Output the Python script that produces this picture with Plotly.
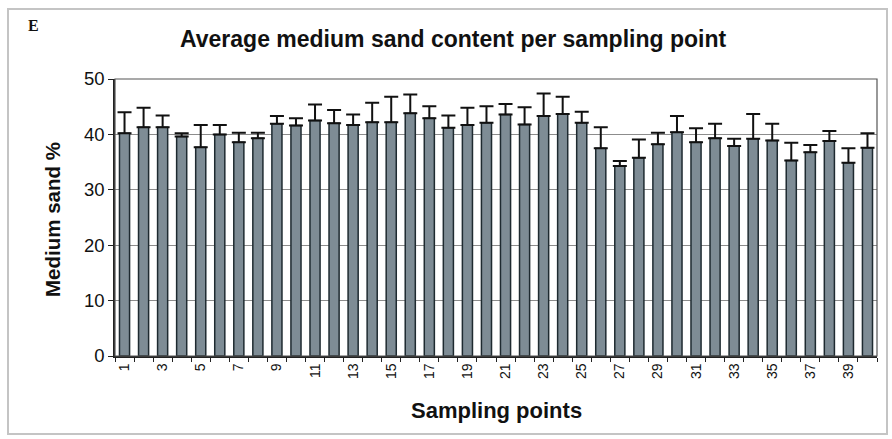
import plotly.graph_objects as go

categories = [str(i) for i in range(1, 41)]
tick_labels = [str(i) if i % 2 == 1 else "" for i in range(1, 41)]
mean_sand = [40.2, 41.3, 41.3, 39.6, 37.7, 40.0, 38.6, 39.3, 41.9, 41.6,
             42.5, 42.0, 41.7, 42.2, 42.2, 43.8, 42.9, 41.2, 41.7, 42.1,
             43.6, 41.8, 43.3, 43.7, 42.1, 37.5, 34.3, 35.8, 38.2, 40.4,
             38.6, 39.3, 37.9, 39.2, 38.9, 35.3, 36.8, 38.8, 34.9, 37.6]
error_plus = [3.8, 3.5, 2.1, 0.6, 4.0, 1.7, 1.7, 1.0, 1.4, 1.3,
              2.9, 2.4, 1.9, 3.5, 4.6, 3.4, 2.2, 2.2, 3.1, 3.0,
              1.9, 3.1, 4.1, 3.1, 2.0, 3.8, 0.9, 3.3, 2.1, 2.9,
              2.5, 2.6, 1.3, 4.5, 3.0, 3.2, 1.3, 1.8, 2.6, 2.6]
y_ticks = [0, 10, 20, 30, 40, 50]

W, H = 892, 439
L, R, T, B = 115, 15, 79, 83
pw, ph = W - L - R, H - T - B

def px(x):
    return (x - L) / pw

def py(y):
    return (H - B - y) / ph

fig = go.Figure()
fig.add_trace(go.Bar(
    x=categories, y=mean_sand,
    marker=dict(color="#7e8c95", line=dict(color="#1e2a30", width=1.5)),
    error_y=dict(type="data", array=error_plus, arrayminus=[0] * len(error_plus),
                 symmetric=False, color="#111111", thickness=2, width=7),
    showlegend=False,
))

fig.update_layout(
    width=W, height=H,
    margin=dict(l=L, r=R, t=T, b=B, autoexpand=False),
    paper_bgcolor="white", plot_bgcolor="white",
    bargap=0.47,
    font=dict(family="Liberation Sans, Arial, sans-serif", color="#111111"),
    xaxis=dict(
        type="category", tickmode="array", tickvals=categories, ticktext=tick_labels,
        tickangle=-90, tickfont=dict(size=14), tickson="boundaries",
        ticks="outside", ticklen=4, tickcolor="#222", showline=True,
        linecolor="#222", linewidth=1.5, showgrid=False,
    ),
    yaxis=dict(
        range=[0, 50], tickvals=y_ticks, tickfont=dict(size=18.5),
        ticks="outside", ticklen=5, tickcolor="#222",
        showline=True, linecolor="#222", linewidth=1.5,
        showgrid=True, gridcolor="#8c8c8c", gridwidth=1,
        zeroline=False,
    ),
    shapes=[
        dict(type="rect", xref="paper", yref="paper", x0=0, x1=1, y0=0, y1=1,
             line=dict(color="#555555", width=1.2), layer="above"),
        dict(type="rect", xref="paper", yref="paper",
             x0=px(8), x1=px(887), y0=py(9), y1=py(434),
             line=dict(color="#c4c4c4", width=2), layer="below"),
    ],
    annotations=[
        dict(text="<b>Average medium sand content per sampling point</b>",
             xref="paper", yref="paper", x=px(453), y=py(39),
             xanchor="center", yanchor="middle", showarrow=False,
             font=dict(size=23, family="Liberation Sans, Arial, sans-serif")),
        dict(text="<b>E</b>", xref="paper", yref="paper", x=px(26), y=py(26),
             xanchor="left", yanchor="middle", showarrow=False,
             font=dict(size=16, family="Liberation Serif, Times New Roman, serif")),
        dict(text="<b>Medium sand %</b>", xref="paper", yref="paper",
             x=px(52), y=py(219), textangle=-90,
             xanchor="center", yanchor="middle", showarrow=False,
             font=dict(size=20.5)),
        dict(text="<b>Sampling points</b>", xref="paper", yref="paper",
             x=px(496), y=py(410),
             xanchor="center", yanchor="middle", showarrow=False,
             font=dict(size=22)),
    ],
)

fig.write_html("out.html", config={"displayModeBar": False},
               post_script="document.body.style.margin='0';")
